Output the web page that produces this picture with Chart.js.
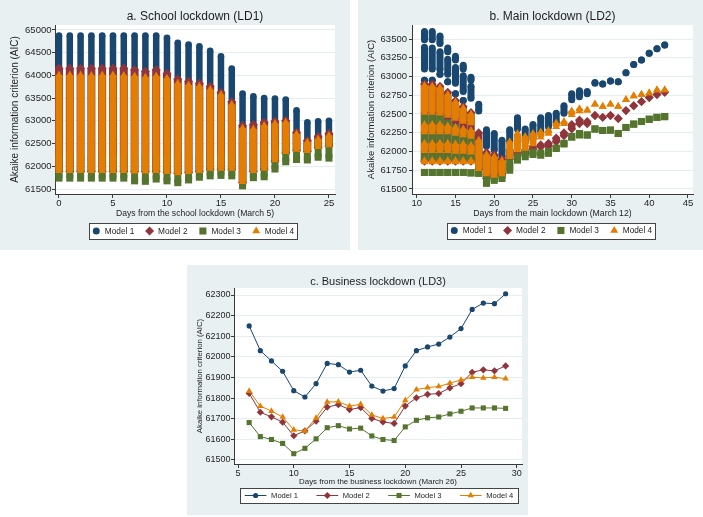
<!DOCTYPE html>
<html>
<head>
<meta charset="utf-8">
<title>AIC by lockdown date</title>
<script src="https://cdn.jsdelivr.net/npm/chart.js@4.4.1/dist/chart.umd.min.js"></script>
<style>
  html, body { margin: 0; padding: 0; background: #fff; }
  body { position: relative; width: 703px; height: 517px; overflow: hidden; }
  canvas { position: absolute; }
</style>
</head>
<body>
<canvas id="panelA" width="350" height="250" style="left:0;top:0"></canvas>
<canvas id="panelB" width="345" height="250" style="left:358px;top:0"></canvas>
<canvas id="panelC" width="341" height="250" style="left:187px;top:265px"></canvas>
<script>
const models = ["Model 1", "Model 2", "Model 3", "Model 4"];
const colors = ["#1a476f", "#90353b", "#55752f", "#e37e00"];
const markers = ["circle", "rectRot", "rect", "triangle"];

// a. School lockdown (LD1) - range of AIC per day and model (low / high end of the column)
const daysA = [0, 1, 2, 3, 4, 5, 6, 7, 8, 9, 10, 11, 12, 13, 14, 15, 16, 17, 18, 19, 20, 21, 22, 23, 24, 25];
const m1LoA = [62000, 62000, 62000, 62000, 62000, 62000, 62000, 62000, 62000, 62000, 62000, 62000, 62000, 62000, 62050, 62050, 62050, 61800, 62000, 62050, 62200, 62350, 62400, 62400, 62450, 62500];
const m1HiA = [64880, 64880, 64880, 64880, 64880, 64880, 64880, 64880, 64880, 64880, 64830, 64720, 64680, 64640, 64540, 64420, 64150, 63600, 63540, 63500, 63490, 63470, 63230, 62970, 62990, 63000];
const m2LoA = [61880, 61880, 61880, 61880, 61880, 61880, 61880, 61880, 61880, 61880, 61860, 61840, 61860, 61880, 61920, 61920, 61920, 61640, 61880, 61920, 62100, 62280, 62340, 62320, 62400, 62440];
const m2HiA = [64160, 64160, 64160, 64160, 64160, 64160, 64160, 64125, 64090, 64125, 64040, 63920, 63870, 63830, 63760, 63630, 63420, 62900, 62920, 62970, 62990, 63010, 62750, 62570, 62660, 62720];
const m3LoA = [61740, 61740, 61740, 61740, 61740, 61740, 61740, 61680, 61670, 61720, 61680, 61640, 61700, 61760, 61790, 61800, 61790, 61570, 61750, 61770, 61940, 62100, 62150, 62140, 62200, 62180];
const m3HiA = [62200, 62200, 62200, 62200, 62200, 62200, 62200, 62200, 62200, 62200, 62200, 62200, 62200, 62200, 62200, 62200, 62200, 62000, 62200, 62200, 62350, 62500, 62500, 62450, 62500, 62550];
const m4LoA = [61900, 61900, 61900, 61900, 61900, 61900, 61900, 61890, 61890, 61900, 61880, 61850, 61880, 61900, 61950, 61950, 61950, 61660, 61900, 61950, 62140, 62320, 62370, 62340, 62430, 62470];
const m4HiA = [64010, 64010, 64010, 64000, 64010, 64010, 64000, 63990, 63960, 63990, 63940, 63830, 63790, 63760, 63690, 63580, 63360, 62840, 62820, 62900, 62940, 62970, 62710, 62530, 62600, 62680];
const xTicksA = [0, 5, 10, 15, 20, 25];
const yTicksA = [61500, 62000, 62500, 63000, 63500, 64000, 64500, 65000];

// b. Main lockdown (LD2) - runs of stacked markers: [day, low, high]
const m1RunsB = [
  [11, 63490, 63600], [11, 63100, 63390], [11, 62950, 62950],
  [12, 63490, 63600], [12, 63100, 63380], [12, 62950, 62950],
  [13, 63440, 63540], [13, 63090, 63330], [13, 63030, 63030],
  [14, 63330, 63380], [14, 63030, 63230], [14, 62930, 62930],
  [15, 63220, 63270], [15, 62910, 63120], [15, 62770, 62770],
  [16, 63100, 63150], [16, 62800, 63010], [16, 62680, 62680],
  [17, 62950, 62990], [17, 62710, 62870], [18, 62540, 62630],
  [19, 62070, 62290], [20, 62020, 62240], [21, 61930, 62150], [22, 62130, 62290],
  [23, 62300, 62450], [24, 62130, 62300], [25, 62170, 62360], [26, 62250, 62450],
  [27, 62330, 62480], [28, 62380, 62510], [29, 62510, 62610], [30, 62690, 62770],
  [31, 62730, 62810], [32, 62770, 62800], [33, 62910, 62920], [34, 62900, 62900],
  [35, 62940, 62940], [36, 62930, 62930], [37, 63050, 63050], [38, 63160, 63160],
  [39, 63220, 63220], [40, 63310, 63310], [41, 63370, 63370], [42, 63420, 63420]
];
const m2RunsB = [
  [11, 61870, 62900], [12, 61870, 62900], [13, 61870, 62870], [14, 61870, 62790],
  [15, 61870, 62680], [16, 61870, 62600], [17, 61870, 62520], [18, 61760, 62250],
  [19, 61640, 61990], [20, 61660, 61960], [21, 61690, 61900], [22, 61900, 62020],
  [23, 61950, 61990], [24, 61980, 62020], [25, 62030, 62070], [26, 62060, 62090],
  [27, 62070, 62110], [28, 62130, 62180], [29, 62210, 62250], [30, 62300, 62360],
  [31, 62370, 62420], [32, 62370, 62400], [33, 62480, 62480], [34, 62455, 62455],
  [35, 62480, 62480], [36, 62440, 62440], [37, 62545, 62545], [38, 62610, 62610],
  [39, 62665, 62665], [40, 62720, 62720], [41, 62760, 62760], [42, 62790, 62790]
];
const m3RunsB = [
  [11, 61720, 61720], [11, 61900, 62450], [12, 61720, 61720], [12, 61900, 62450],
  [13, 61720, 61720], [13, 61900, 62450], [14, 61720, 61720], [14, 61900, 62380],
  [15, 61720, 61720], [15, 61890, 62320], [16, 61720, 61720], [16, 61890, 62260],
  [17, 61715, 61715], [17, 61890, 62200], [18, 61710, 61710], [18, 61820, 62000],
  [19, 61575, 61630], [20, 61615, 61640], [21, 61640, 61690], [22, 61750, 61850],
  [23, 61885, 61930], [24, 61930, 61975], [25, 61960, 61990], [26, 61950, 61980],
  [27, 61975, 62000], [28, 62040, 62045], [29, 62100, 62110], [30, 62190, 62200],
  [31, 62220, 62240], [32, 62220, 62220], [33, 62300, 62300], [34, 62280, 62280],
  [35, 62285, 62285], [36, 62240, 62240], [37, 62320, 62320], [38, 62365, 62365],
  [39, 62400, 62400], [40, 62430, 62430], [41, 62455, 62455], [42, 62465, 62465]
];
const m4RunsB = [
  [11, 61860, 61880], [11, 62010, 62110], [11, 62260, 62360], [11, 62520, 62880],
  [12, 61860, 61880], [12, 62010, 62110], [12, 62260, 62360], [12, 62520, 62870],
  [13, 61860, 61880], [13, 62010, 62110], [13, 62260, 62360], [13, 62510, 62850],
  [14, 61860, 61880], [14, 62010, 62110], [14, 62260, 62340], [14, 62480, 62760],
  [15, 61860, 61880], [15, 62000, 62100], [15, 62240, 62320], [15, 62440, 62660],
  [16, 61860, 61880], [16, 62000, 62100], [16, 62220, 62300], [16, 62400, 62580],
  [17, 61860, 61880], [17, 61990, 62080], [17, 62200, 62280], [17, 62380, 62500],
  [18, 61770, 62150], [19, 61700, 61960], [20, 61680, 61930], [21, 61700, 61880],
  [22, 61930, 62130], [23, 62020, 62240], [24, 62040, 62200], [25, 62100, 62240],
  [26, 62190, 62260], [27, 62240, 62280], [28, 62330, 62380], [29, 62370, 62400],
  [30, 62490, 62540], [31, 62540, 62570], [32, 62550, 62550], [33, 62630, 62630],
  [34, 62600, 62600], [35, 62630, 62630], [36, 62600, 62600], [37, 62690, 62690],
  [38, 62740, 62740], [39, 62760, 62760], [40, 62780, 62780], [41, 62820, 62820],
  [42, 62820, 62820]
];
const xTicksB = [10, 15, 20, 25, 30, 35, 40, 45];
const yTicksB = [61500, 61750, 62000, 62250, 62500, 62750, 63000, 63250, 63500];

// c. Business lockdown (LD3) - one AIC per day and model
const daysC = [6, 7, 8, 9, 10, 11, 12, 13, 14, 15, 16, 17, 18, 19, 20, 21, 22, 23, 24, 25, 26, 27, 28, 29];
const m1C = [62150, 62030, 61980, 61930, 61836, 61805, 61870, 61968, 61962, 61926, 61935, 61858, 61834, 61846, 61956, 62030, 62048, 62062, 62096, 62137, 62230, 62261, 62258, 62306];
const m2C = [61823, 61731, 61709, 61683, 61617, 61641, 61688, 61756, 61768, 61744, 61754, 61701, 61684, 61677, 61761, 61801, 61818, 61822, 61849, 61870, 61925, 61937, 61932, 61956];
const m3C = [61681, 61613, 61599, 61580, 61530, 61556, 61602, 61656, 61666, 61650, 61654, 61616, 61599, 61594, 61660, 61692, 61704, 61708, 61723, 61736, 61752, 61752, 61752, 61750];
const m4C = [61834, 61761, 61737, 61708, 61646, 61640, 61703, 61781, 61782, 61761, 61770, 61718, 61701, 61708, 61789, 61841, 61851, 61856, 61872, 61888, 61901, 61898, 61901, 61894];
const xTicksC = [5, 10, 15, 20, 25, 30];
const yTicksC = [61500, 61600, 61700, 61800, 61900, 62000, 62100, 62200, 62300];

const PANEL_BG = "#e9f0f2";
const GRID = "#e6edf0";
const AXIS = "#3a3a3a";
const TEXT = "#1e1e1e";
Chart.defaults.font.family = '"Liberation Sans", Arial, Helvetica, sans-serif';
Chart.defaults.color = TEXT;

// panel background + white plot region
const frame = {
  id: "frame",
  beforeDraw(chart) {
    const { ctx, chartArea: a, width, height } = chart;
    ctx.save();
    ctx.fillStyle = PANEL_BG;
    ctx.fillRect(0, 0, width, height);
    ctx.fillStyle = "#fff";
    ctx.fillRect(a.left, a.top, a.right - a.left, a.bottom - a.top);
    ctx.restore();
  }
};

// Stata-like boxed legend under the axis title
const boxLegend = {
  id: "boxLegend",
  afterDraw(chart, args, o) {
    const { ctx, chartArea: a } = chart;
    const sets = chart.data.datasets;
    ctx.save();
    ctx.font = o.fontSize + 'px "Liberation Sans", Arial, sans-serif';
    const widths = sets.map(d => o.sample + o.gap + ctx.measureText(d.label).width);
    const total = widths.reduce((s, w) => s + w, 0) + o.spacing * (sets.length - 1);
    const x0 = (a.left + a.right) / 2 - total / 2 + (o.shift || 0);
    const bx = Math.round(x0 - o.padX) + 0.5;
    const by = Math.round(o.y - o.h / 2) + 0.5;
    const bw = Math.round(total + 2 * o.padX);
    ctx.fillStyle = "#fff";
    ctx.fillRect(bx, by, bw, o.h);
    ctx.strokeStyle = "#444";
    ctx.lineWidth = 1;
    ctx.strokeRect(bx, by, bw, o.h);
    let x = x0;
    sets.forEach((d, i) => {
      if (o.line) {
        ctx.strokeStyle = d.borderColor;
        ctx.lineWidth = 1;
        ctx.beginPath();
        ctx.moveTo(x, o.y);
        ctx.lineTo(x + o.sample, o.y);
        ctx.stroke();
      }
      ctx.fillStyle = d.pointBackgroundColor;
      Chart.helpers.drawPoint(ctx, { pointStyle: d.pointStyle, radius: o.radius[i], rotation: 0, borderWidth: 0 }, x + o.sample / 2, o.y);
      ctx.fillStyle = TEXT;
      ctx.textBaseline = "middle";
      ctx.textAlign = "left";
      ctx.fillText(d.label, x + o.sample + o.gap, o.y + 0.5);
      x += widths[i] + o.spacing;
    });
    ctx.restore();
  }
};

function columnPoints(runs) {
  const pts = [];
  for (const [day, lo, hi] of runs) {
    pts.push({ x: day, y: lo }, { x: day, y: hi }, { x: day, y: null });
  }
  return pts;
}

function scales(s) {
  return {
    x: {
      type: "linear", min: s.xMin, max: s.xMax,
      afterBuildTicks: sc => { sc.ticks = s.xTicks.map(v => ({ value: v })); },
      afterFit: sc => { sc.height = s.xHeight; },
      grid: { drawOnChartArea: false, drawTicks: true, tickLength: 4, tickColor: AXIS },
      border: { display: true, color: AXIS, width: 1 },
      ticks: { padding: 0, maxRotation: 0, font: { size: s.tickSize }, callback: v => String(v) },
      title: { display: true, text: s.xTitle, font: { size: s.xTitleSize }, padding: { top: 0, bottom: s.xTitlePad } }
    },
    y: {
      type: "linear", min: s.yMin, max: s.yMax,
      afterBuildTicks: sc => { sc.ticks = s.yTicks.map(v => ({ value: v })); },
      afterFit: sc => { sc.width = s.yWidth; },
      grid: { color: GRID, lineWidth: 1, drawTicks: true, tickLength: 3, tickColor: AXIS },
      border: { display: true, color: AXIS, width: 1 },
      ticks: { padding: s.yTickPad, font: { size: s.tickSize }, callback: v => String(v) },
      title: { display: true, text: "Akaike information criterion (AIC)", font: { size: s.yTitleSize }, padding: { top: s.yTitlePad, bottom: 0 } }
    }
  };
}

function titleOpts(text, size, padTop, padBottom) {
  return {
    display: true, text, fullSize: false, color: TEXT,
    font: { size, weight: "normal", lineHeight: 1 },
    padding: { top: padTop, bottom: padBottom }
  };
}

function columnChart(id, title, runsByModel, widths, radii, sc, pad, legend) {
  return new Chart(document.getElementById(id), {
    type: "scatter",
    data: {
      datasets: models.map((m, i) => ({
        label: m,
        data: columnPoints(runsByModel[i]),
        showLine: true,
        spanGaps: false,
        borderColor: colors[i],
        borderWidth: widths[i],
        borderCapStyle: "butt",
        pointStyle: markers[i],
        pointRadius: radii[i],
        pointBackgroundColor: colors[i],
        pointBorderWidth: 0,
        order: 4 - i
      }))
    },
    options: {
      responsive: false, animation: false, events: [],
      layout: { padding: pad },
      scales: scales(sc),
      plugins: { legend: { display: false }, tooltip: { enabled: false }, title: titleOpts(title, 12, 11, 2), boxLegend: legend }
    },
    plugins: [frame, boxLegend]
  });
}

const runsA = [[m1LoA, m1HiA], [m2LoA, m2HiA], [m3LoA, m3HiA], [m4LoA, m4HiA]]
  .map(([lo, hi]) => daysA.map((d, i) => [d, lo[i], hi[i]]));

columnChart("panelA", "a. School lockdown (LD1)", runsA,
  [6.5, 8, 7, 7], [3.3, 4.5, 5, 4.5],
  { xMin: -0.37, xMax: 25.56, xTicks: xTicksA, xTitle: "Days from the school lockdown (March 5)", xHeight: 26, xTitlePad: 1.5, xTitleSize: 8.6,
    tickSize: 9.5, yTickPad: 0.5, yMin: 61390, yMax: 65110, yTicks: yTicksA, yWidth: 55, yTitlePad: 9, yTitleSize: 10 },
  { left: 0, right: 15, top: 0, bottom: 30 },
  { y: 231, h: 16, fontSize: 8.3, sample: 7, gap: 5, spacing: 11.8, padX: 3.5, shift: -1.5, radius: [3.5, 4.5, 5, 4.6] });

columnChart("panelB", "b. Main lockdown (LD2)", [m1RunsB, m2RunsB, m3RunsB, m4RunsB],
  [7, 7.5, 7, 7], [3.5, 4.4, 5, 4.6],
  { xMin: 9.39, xMax: 45.65, xTicks: xTicksB, xTitle: "Days from the main lockdown (March 12)", xHeight: 26, xTitlePad: 1.5, xTitleSize: 8.7,
    tickSize: 9.5, yTickPad: 2, yMin: 61433, yMax: 63687, yTicks: yTicksB, yWidth: 54, yTitlePad: 8, yTitleSize: 9.5 },
  { left: 0, right: 10, top: 0, bottom: 30 },
  { y: 230.5, h: 16, fontSize: 8.3, sample: 7, gap: 5, spacing: 11.8, padX: 3.5, shift: -1, radius: [3.5, 4.5, 5, 4.6] });

new Chart(document.getElementById("panelC"), {
  type: "scatter",
  data: {
    datasets: [m1C, m2C, m3C, m4C].map((vals, i) => ({
      label: models[i],
      data: daysC.map((d, j) => ({ x: d, y: vals[j] })),
      showLine: true,
      borderColor: colors[i],
      borderWidth: 1,
      pointStyle: markers[i],
      pointRadius: [2.6, 3.6, 3.6, 3.7][i],
      pointBackgroundColor: colors[i],
      pointBorderWidth: 0,
      order: 4 - i
    }))
  },
  options: {
    responsive: false, animation: false, events: [],
    layout: { padding: { left: 0, right: 6, top: 0, bottom: 28 } },
    scales: scales({ xMin: 4.64, xMax: 30.47, xTicks: xTicksC, xTitle: "Days from the business lockdown (March 26)", xHeight: 23, xTitlePad: 0, xTitleSize: 7.9,
      tickSize: 9, yTickPad: 0.5, yMin: 61480, yMax: 62334, yTicks: yTicksC, yWidth: 47, yTitlePad: 8.3, yTitleSize: 7.8 }),
    plugins: {
      legend: { display: false }, tooltip: { enabled: false },
      title: titleOpts("c. Business lockdown (LD3)", 11, 11.2, 0.8),
      boxLegend: { y: 230.5, h: 15, fontSize: 7.6, sample: 21.7, gap: 4.6, spacing: 18.4, padX: 4.8, shift: 1, line: true, radius: [2.6, 3.6, 3.6, 3.7] }
    }
  },
  plugins: [frame, boxLegend]
});
</script>
</body>
</html>
